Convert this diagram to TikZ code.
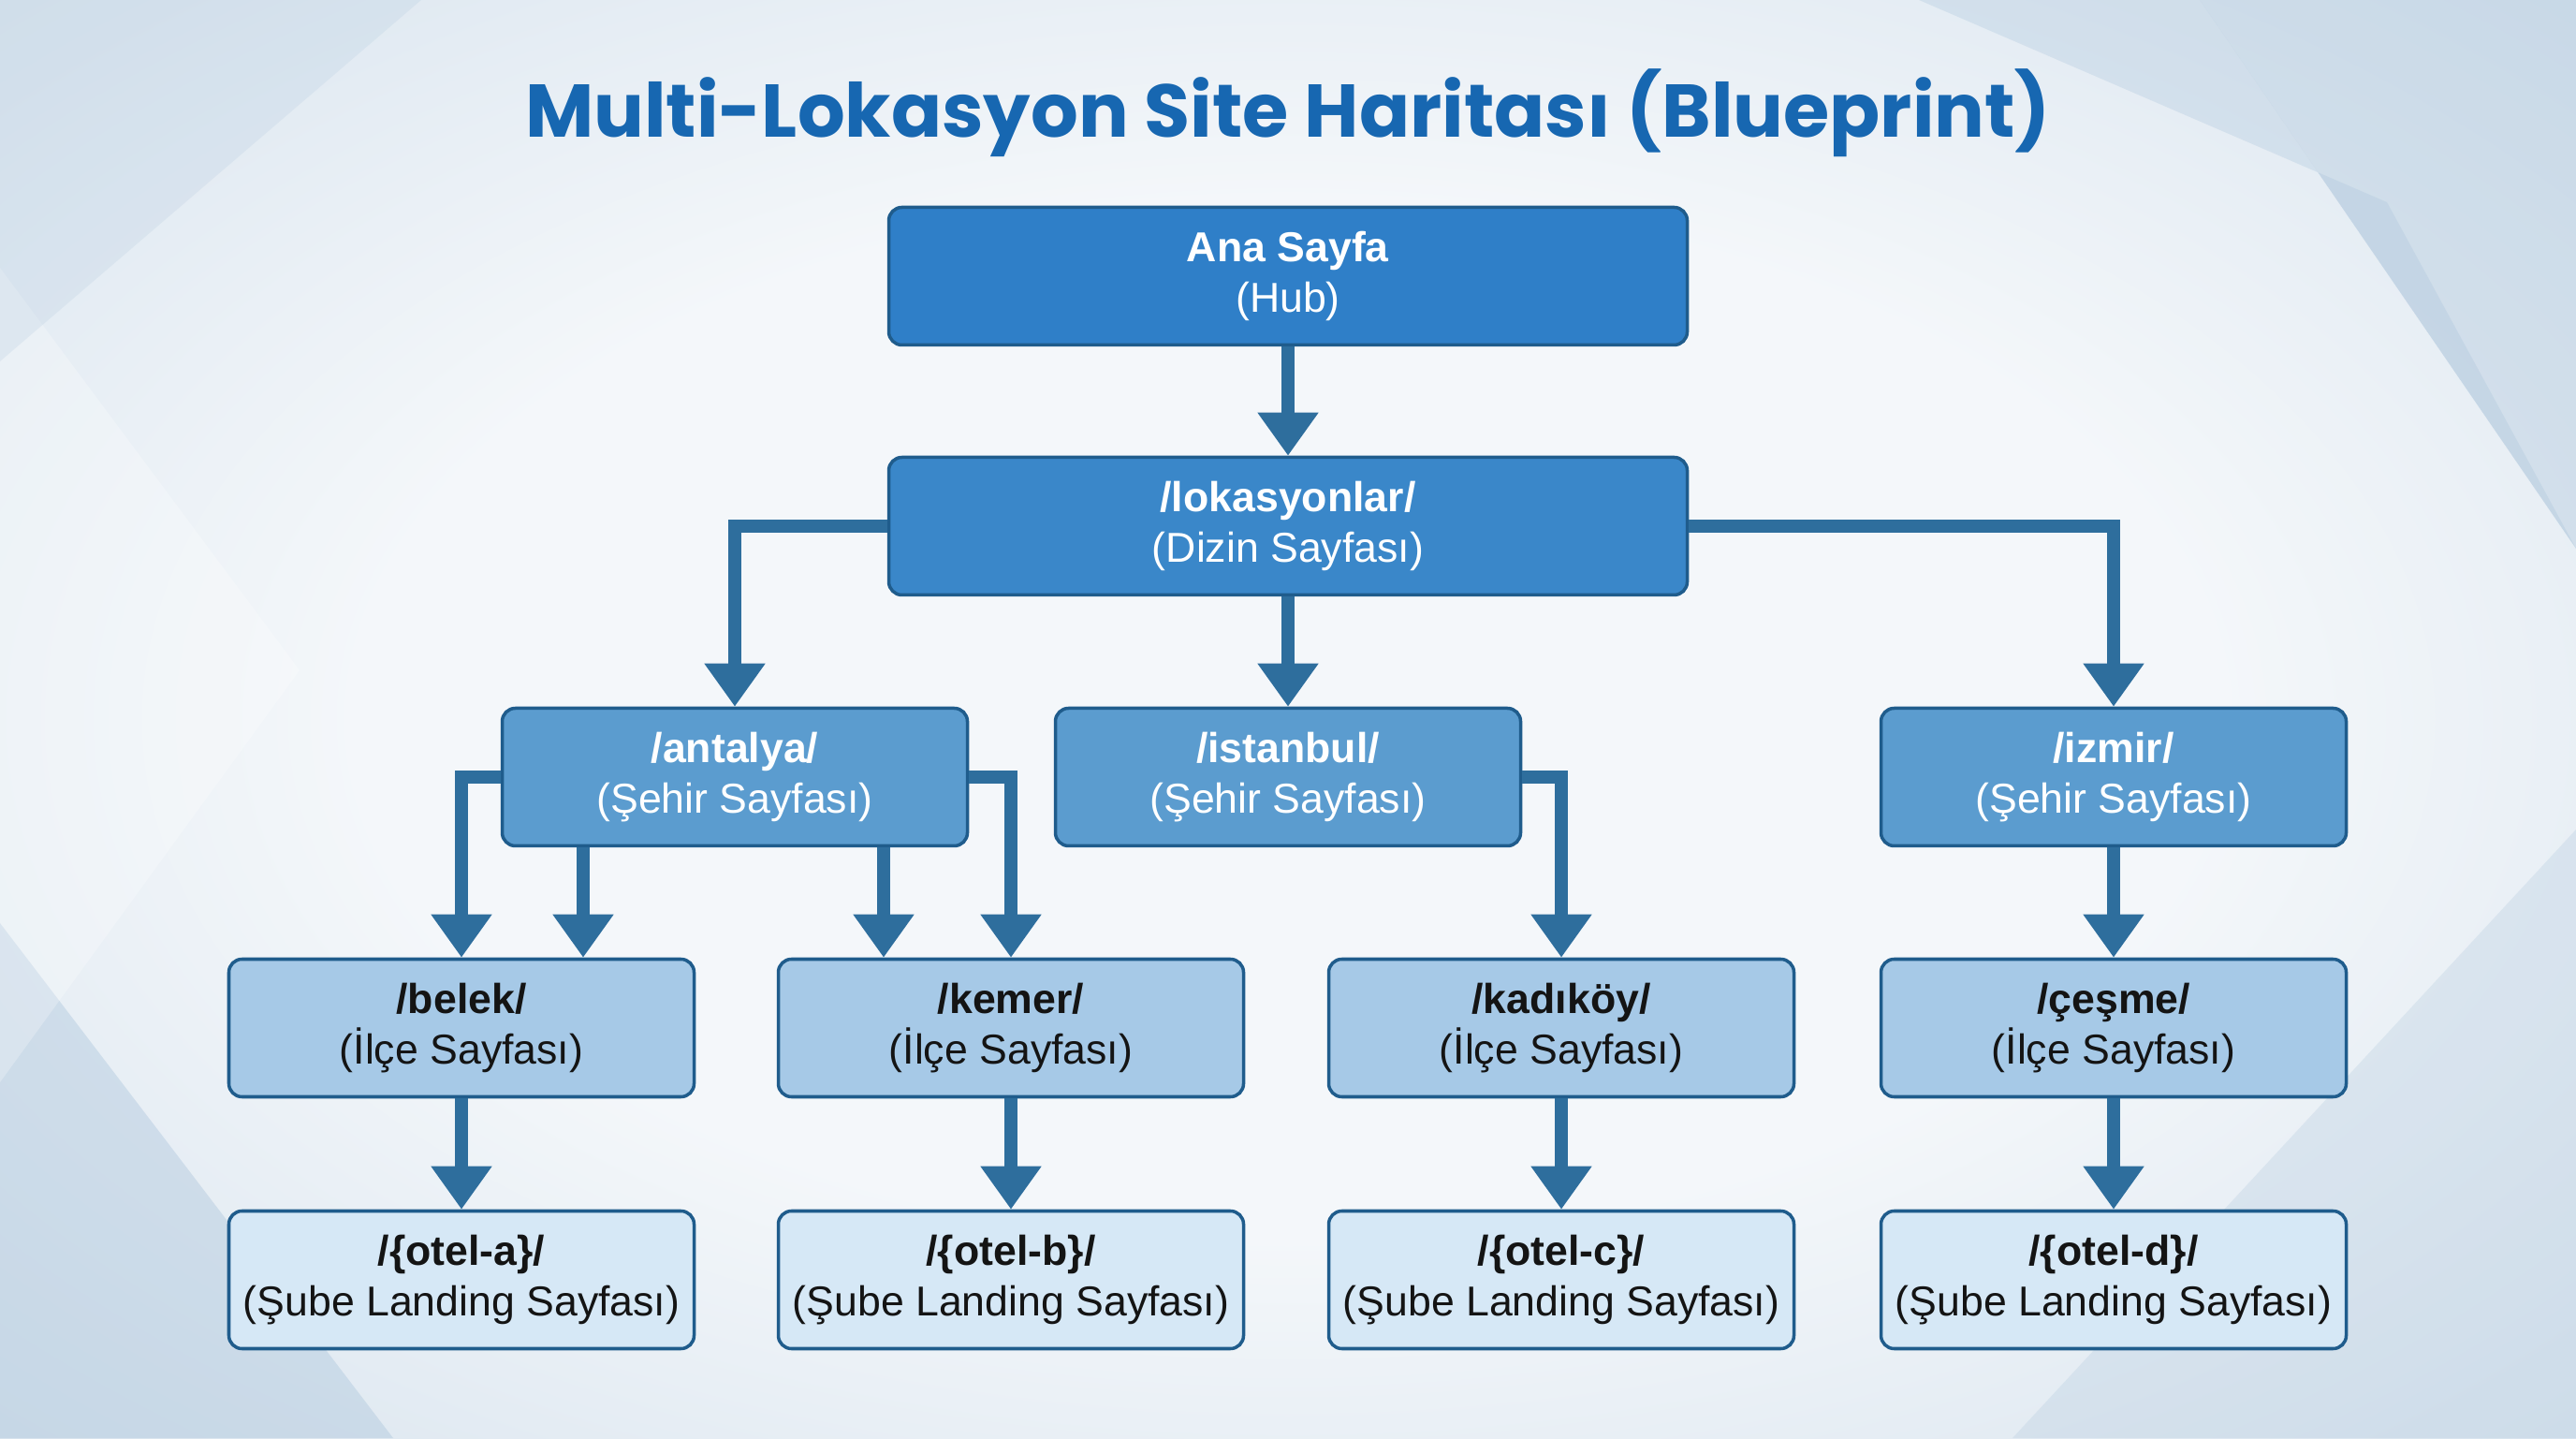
\documentclass[tikz,border=0pt]{standalone}
\usepackage{fontspec}
\setmainfont{Liberation Sans}
\newfontfamily\titlefont{Poppins}
\usetikzlibrary{arrows.meta,positioning}
\definecolor{bgmid}{HTML}{F4F7FA}
\definecolor{bgedge}{HTML}{A9C3DA}
\definecolor{titleblue}{HTML}{1767B1}
\definecolor{hubblue}{HTML}{2F7FC8}
\definecolor{dirblue}{HTML}{3A87C9}
\definecolor{cityblue}{HTML}{5B9CCF}
\definecolor{distblue}{HTML}{A6C9E7}
\definecolor{otelblue}{HTML}{D6E8F6}
\definecolor{edgeblue}{HTML}{1F5C8C}
\definecolor{linkblue}{HTML}{2E6E9D}
\pgfdeclareradialshading{bgglow}{\pgfpoint{0bp}{0bp}}{color(0bp)=(bgmid); color(18bp)=(bgmid); color(45bp)=(bgedge!55!bgmid); color(71bp)=(bgedge)}
\tikzset{
    page/.style={draw=edgeblue,line width=1pt,rounded corners=4pt,minimum width=4.97cm,minimum height=1.47cm,align=center,font=\fontsize{12.7}{15.5}\selectfont},
    hubbox/.style={page,fill=hubblue,text=white,minimum width=8.53cm},
    dirbox/.style={page,fill=dirblue,text=white,minimum width=8.53cm},
    citybox/.style={page,fill=cityblue,text=white},
    distbox/.style={page,fill=distblue,text=black!92},
    otelbox/.style={page,fill=otelblue,text=black!92},
    link/.style={draw=linkblue,line width=4pt,-{Triangle[width=0.62cm,length=0.46cm]}}
}
\begin{document}
\begin{tikzpicture}[>=stealth]
            \useasboundingbox (0,0) rectangle (27.52,15.36);
            \shade[shading=bgglow] (0,0) rectangle (27.52,15.36);
            \fill[bgedge,opacity=0.35] (23.5,15.36) -- (27.52,15.36) -- (27.52,9.5) -- cycle;
            \fill[bgedge,opacity=0.3] (20.5,15.36) -- (23.5,15.36) -- (27.52,9.5) -- (25.5,13.2) -- cycle;
            \fill[bgedge,opacity=0.4] (0,0) -- (4.2,0) -- (0,5.5) -- cycle;
            \fill[bgedge,opacity=0.25] (27.52,0) -- (21.5,0) -- (27.52,6.5) -- cycle;
            \fill[white,opacity=0.25] (0,12.5) -- (3.2,8.2) -- (0,3.8) -- cycle;
            \fill[bgedge,opacity=0.2] (0,15.36) -- (4.5,15.36) -- (0,11.5) -- cycle;
            \node[font=\titlefont\bfseries\fontsize{22.7}{27}\selectfont,text=titleblue] (title) at (13.76,14.15) {Multi-Lokasyon Site Haritası (Blueprint)};
            \node[hubbox] (ana) at (13.76,12.41) {\textbf{Ana Sayfa}\\(Hub)};
            \node[dirbox] (lok) at (13.76,9.74) {\textbf{/lokasyonlar/}\\(Dizin Sayfası)};
            \node[citybox] (antalya) at (7.85,7.06) {\textbf{/antalya/}\\(Şehir Sayfası)};
            \node[citybox] (istanbul) at (13.76,7.06) {\textbf{/istanbul/}\\(Şehir Sayfası)};
            \node[citybox] (izmir) at (22.58,7.06) {\textbf{/izmir/}\\(Şehir Sayfası)};
            \node[distbox] (belek) at (4.93,4.38) {\textbf{/belek/}\\(İlçe Sayfası)};
            \node[distbox] (kemer) at (10.80,4.38) {\textbf{/kemer/}\\(İlçe Sayfası)};
            \node[distbox] (kadikoy) at (16.68,4.38) {\textbf{/kadıköy/}\\(İlçe Sayfası)};
            \node[distbox] (cesme) at (22.58,4.38) {\textbf{/çeşme/}\\(İlçe Sayfası)};
            \node[otelbox] (otela) at (4.93,1.69) {\textbf{/\{otel-a\}/}\\(Şube Landing Sayfası)};
            \node[otelbox] (otelb) at (10.80,1.69) {\textbf{/\{otel-b\}/}\\(Şube Landing Sayfası)};
            \node[otelbox] (otelc) at (16.68,1.69) {\textbf{/\{otel-c\}/}\\(Şube Landing Sayfası)};
            \node[otelbox] (oteld) at (22.58,1.69) {\textbf{/\{otel-d\}/}\\(Şube Landing Sayfası)};
            \coordinate (beleka) at ([xshift=1.30cm]belek.north);
            \coordinate (kemera) at ([xshift=-1.36cm]kemer.north);
            \draw[link] (ana) -- (lok);
            \draw[link] (lok.west) -| (antalya.north);
            \draw[link] (lok) -- (istanbul);
            \draw[link] (lok.east) -| (izmir.north);
            \draw[link] (antalya.west) -| (belek.north);
            \draw[link] (beleka |- antalya.south) -- (beleka);
            \draw[link] (kemera |- antalya.south) -- (kemera);
            \draw[link] (antalya.east) -| (kemer.north);
            \draw[link] (istanbul.east) -| (kadikoy.north);
            \draw[link] (izmir) -- (cesme);
            \draw[link] (belek) -- (otela);
            \draw[link] (kemer) -- (otelb);
            \draw[link] (kadikoy) -- (otelc);
            \draw[link] (cesme) -- (oteld);
\end{tikzpicture}
\end{document}
